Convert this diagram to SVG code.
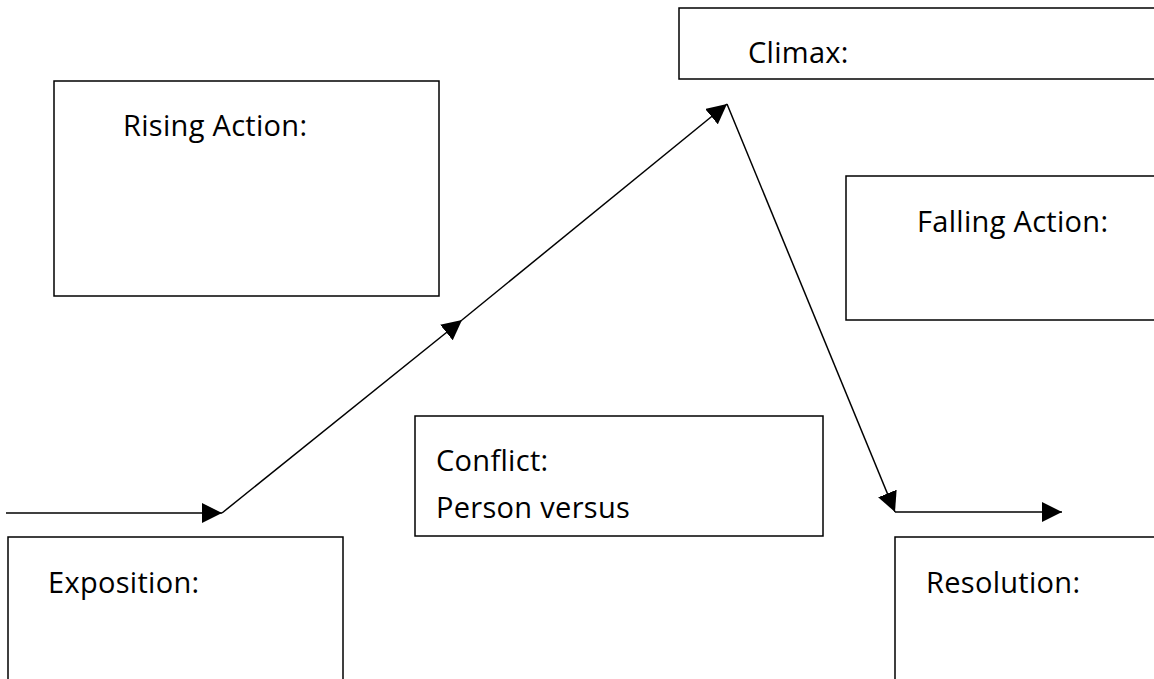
<svg xmlns="http://www.w3.org/2000/svg" width="1154" height="679" viewBox="0 0 1154 679">
<style>
.box{fill:#fff;stroke:#000;stroke-width:1.5}
.lbl{font-family:"Open Sans","Noto Sans",sans-serif;font-size:29px;letter-spacing:0.3px;fill:#000}
.con{fill:none;stroke:#000;stroke-width:1.5}
</style>
<defs>
<marker id="ah" markerWidth="20" markerHeight="20" refX="20" refY="10" orient="auto" markerUnits="userSpaceOnUse" viewBox="0 0 20 20">
<path d="M0,0 L20,10 L0,20 Z" fill="#000"/>
</marker>
</defs>
<rect width="1154" height="679" fill="#fff"/>
<g id="climax"><rect class="box" x="679" y="8" width="490" height="71"/><text class="lbl" x="748" y="63">Climax:</text></g>
<g id="rising"><rect class="box" x="54" y="81" width="385" height="215"/><text class="lbl" x="123" y="136">Rising Action:</text></g>
<g id="falling"><rect class="box" x="846" y="176" width="330" height="144"/><text class="lbl" x="917" y="232">Falling Action:</text></g>
<g id="conflict"><rect class="box" x="415" y="416" width="408" height="120"/><text class="lbl" x="436" y="471">Conflict:</text><text class="lbl" x="436" y="518">Person versus</text></g>
<g id="exposition"><rect class="box" x="8" y="537" width="335" height="160"/><text class="lbl" x="48" y="593">Exposition:</text></g>
<g id="resolution"><rect class="box" x="895" y="537" width="280" height="160"/><text class="lbl" x="926" y="593">Resolution:</text></g>
<g id="connectors">
<line class="con" x1="6" y1="513" x2="222" y2="513" marker-end="url(#ah)"/>
<line class="con" x1="222" y1="513" x2="462" y2="320" marker-end="url(#ah)"/>
<line class="con" x1="462" y1="320" x2="727" y2="104" marker-end="url(#ah)"/>
<line class="con" x1="727" y1="104" x2="895" y2="512" marker-end="url(#ah)"/>
<line class="con" x1="895" y1="512" x2="1062" y2="512" marker-end="url(#ah)"/>
</g>
</svg>
